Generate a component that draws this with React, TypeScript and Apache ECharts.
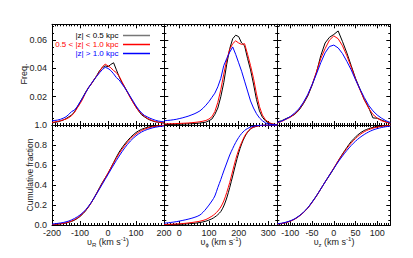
import React, { useEffect, useRef } from "react";
import * as echarts from "echarts";

// ---------- data ----------
const VR_X = [-200,-190,-180,-170,-160,-150,-140,-130,-120,-110,-100,-90,-80,-70,-60,-50,-40,-30,-20,-10,0,10,20,30,40,50,60,70,80,90,100,110,120,130,140,150,160,170,180,190,200];
const VR_LOW = [0.0015,0.0018,0.0022,0.0028,0.0035,0.0045,0.0058,0.0070,0.0092,0.0125,0.0160,0.0195,0.0232,0.0262,0.0290,0.0318,0.0350,0.0385,0.0405,0.0418,0.0412,0.0428,0.0440,0.0390,0.0340,0.0300,0.0268,0.0232,0.0195,0.0160,0.0128,0.0098,0.0072,0.0058,0.0045,0.0035,0.0028,0.0022,0.0020,0.0016,0.0014];
const VR_MID = [0.0018,0.0022,0.0025,0.0030,0.0036,0.0042,0.0052,0.0066,0.0088,0.0120,0.0150,0.0185,0.0228,0.0265,0.0288,0.0322,0.0348,0.0378,0.0412,0.0430,0.0418,0.0405,0.0385,0.0370,0.0345,0.0305,0.0265,0.0228,0.0192,0.0158,0.0125,0.0098,0.0078,0.0062,0.0048,0.0038,0.0030,0.0024,0.0020,0.0017,0.0015];
const VR_HIGH = [0.0030,0.0032,0.0035,0.0040,0.0048,0.0058,0.0075,0.0095,0.0105,0.0130,0.0162,0.0195,0.0228,0.0262,0.0292,0.0320,0.0345,0.0370,0.0392,0.0408,0.0400,0.0385,0.0362,0.0335,0.0318,0.0290,0.0262,0.0232,0.0200,0.0168,0.0135,0.0108,0.0085,0.0068,0.0058,0.0048,0.0040,0.0033,0.0028,0.0025,0.0022];

const VPHI_X = [-50,-40,-30,-20,-10,0,10,20,30,40,50,60,70,80,90,100,110,120,130,140,150,160,170,180,190,200,210,220,230,240,250,260,270,280,290,300,310,320,330];
const VPHI_LOW = [0.0003,0.0003,0.0004,0.0004,0.0005,0.0005,0.0006,0.0007,0.0008,0.0009,0.0010,0.0012,0.0014,0.0017,0.0020,0.0030,0.0042,0.0075,0.0120,0.0200,0.0300,0.0430,0.0540,0.0610,0.0635,0.0625,0.0580,0.0560,0.0470,0.0390,0.0290,0.0180,0.0100,0.0055,0.0030,0.0015,0.0008,0.0004,0.0002];
const VPHI_MID = [0.0008,0.0008,0.0009,0.0009,0.0010,0.0011,0.0012,0.0013,0.0014,0.0016,0.0018,0.0020,0.0023,0.0027,0.0032,0.0042,0.0058,0.0095,0.0160,0.0250,0.0360,0.0460,0.0535,0.0575,0.0595,0.0580,0.0570,0.0575,0.0500,0.0420,0.0330,0.0220,0.0130,0.0070,0.0038,0.0020,0.0010,0.0005,0.0003];
const VPHI_HIGH = [0.0030,0.0032,0.0034,0.0037,0.0040,0.0045,0.0050,0.0056,0.0062,0.0070,0.0078,0.0088,0.0100,0.0118,0.0140,0.0165,0.0195,0.0225,0.0270,0.0330,0.0420,0.0470,0.0515,0.0552,0.0500,0.0440,0.0380,0.0310,0.0240,0.0170,0.0120,0.0080,0.0050,0.0030,0.0015,0.0008,0.0004,0.0002,0.0001];

const VZ_X = [-130,-120,-110,-100,-90,-80,-70,-60,-50,-40,-30,-20,-10,0,10,20,30,40,50,60,70,80,90,100,110,120,130];
const VZ_LOW = [0.0022,0.0030,0.0045,0.0058,0.0075,0.0105,0.0150,0.0205,0.0280,0.0370,0.0490,0.0580,0.0620,0.0640,0.0665,0.0590,0.0510,0.0420,0.0330,0.0255,0.0180,0.0125,0.0050,0.0048,0.0035,0.0022,0.0012];
const VZ_MID = [0.0015,0.0025,0.0040,0.0055,0.0078,0.0110,0.0155,0.0210,0.0285,0.0375,0.0470,0.0540,0.0600,0.0630,0.0610,0.0560,0.0490,0.0410,0.0325,0.0250,0.0180,0.0120,0.0075,0.0048,0.0030,0.0020,0.0012];
const VZ_HIGH = [0.0018,0.0028,0.0042,0.0060,0.0085,0.0115,0.0160,0.0215,0.0285,0.0360,0.0440,0.0510,0.0555,0.0565,0.0545,0.0505,0.0450,0.0390,0.0320,0.0255,0.0195,0.0140,0.0100,0.0070,0.0048,0.0030,0.0018];

// cumulative fractions
const VR_CX = [-200,-180,-160,-140,-120,-100,-80,-60,-40,-20,0,20,40,60,80,100,120,140,160,180,200];
const VR_CUM_LOW = [0.004,0.008,0.015,0.027,0.048,0.085,0.142,0.222,0.322,0.425,0.515,0.625,0.730,0.810,0.875,0.925,0.957,0.976,0.988,0.994,0.997];
const VR_CUM_MID = [0.005,0.009,0.016,0.030,0.053,0.090,0.145,0.222,0.318,0.420,0.520,0.620,0.715,0.795,0.862,0.910,0.945,0.968,0.982,0.991,0.996];
const VR_CUM_HIGH = [0.010,0.016,0.025,0.040,0.065,0.100,0.152,0.225,0.315,0.410,0.505,0.600,0.690,0.772,0.840,0.892,0.930,0.955,0.972,0.983,0.990];

const VPHI_CX = [-50,-30,-10,10,30,50,70,90,110,120,130,140,150,160,170,180,190,200,210,220,230,240,250,270,290,310,330];
const VPHI_CUM_LOW = [0.003,0.004,0.006,0.008,0.012,0.017,0.025,0.038,0.062,0.080,0.103,0.135,0.190,0.270,0.375,0.490,0.610,0.720,0.810,0.878,0.928,0.960,0.978,0.994,0.999,1.0,1.0];
const VPHI_CUM_MID = [0.005,0.007,0.010,0.014,0.020,0.028,0.038,0.055,0.088,0.110,0.140,0.180,0.240,0.325,0.425,0.540,0.655,0.750,0.825,0.888,0.932,0.962,0.978,0.994,0.999,1.0,1.0];
const VPHI_CUM_HIGH = [0.018,0.025,0.033,0.045,0.058,0.075,0.100,0.160,0.240,0.290,0.375,0.455,0.540,0.620,0.700,0.765,0.825,0.875,0.915,0.945,0.965,0.978,0.988,0.996,0.999,1.0,1.0];

const VZ_CX = VZ_X;
const VZ_CUM_LOW = [0.010,0.015,0.025,0.040,0.060,0.090,0.125,0.170,0.230,0.290,0.360,0.430,0.495,0.565,0.640,0.710,0.775,0.835,0.880,0.918,0.945,0.963,0.976,0.985,0.991,0.995,0.997];
const VZ_CUM_MID = [0.010,0.015,0.024,0.038,0.058,0.087,0.123,0.168,0.225,0.290,0.360,0.430,0.500,0.570,0.640,0.705,0.765,0.820,0.865,0.903,0.932,0.953,0.968,0.979,0.987,0.992,0.995];
const VZ_CUM_HIGH = [0.012,0.018,0.028,0.042,0.062,0.090,0.127,0.172,0.228,0.292,0.360,0.430,0.500,0.565,0.630,0.690,0.745,0.795,0.838,0.875,0.905,0.930,0.950,0.964,0.975,0.983,0.988];

const X_TICKS_R = [-200, -100, 0, 100, 200];
const X_TICKS_PHI = [0, 100, 200, 300];
const X_TICKS_Z = [-100, -50, 0, 50, 100];
const Y_TICKS_FREQ = [0.02, 0.04, 0.06];
const Y_TICKS_CUM = [0, 0.2, 0.4, 0.6, 0.8, 1.0];

const LEGEND = ["|z| < 0.5 kpc", "0.5 < |z| < 1.0 kpc", "|z| > 1.0 kpc"];
const COLORS = ["#000000", "#ff0000", "#0000ff"];

const FONT = "Liberation Sans, Arial, Helvetica, sans-serif";
const TXT = "#222";

export default function App() {
  const ref = useRef<HTMLDivElement>(null);

  useEffect(() => {
    if (!ref.current) return;
    const chart = echarts.init(ref.current, undefined, { renderer: "svg" });

    const cols = [
      { left: 52, width: 112, min: -200, max: 200, minor: 10, majors: X_TICKS_R },
      { left: 164.3, width: 113, min: -50, max: 330, minor: 10, majors: X_TICKS_PHI },
      { left: 277.3, width: 113, min: -130, max: 130, minor: 5, majors: X_TICKS_Z },
    ];
    const rows = [
      { top: 24.3, height: 100.7, min: 0, max: 0.0712, minor: 0.005, majors: [0, 0.02, 0.04, 0.06], labels: Y_TICKS_FREQ, dec: 2 },
      { top: 125, height: 100, min: 0, max: 1.0, minor: 0.05, majors: Y_TICKS_CUM, labels: Y_TICKS_CUM, dec: 1 },
    ];
    const panels = [
      { hx: VR_X, h: [VR_LOW, VR_MID, VR_HIGH], cx: VR_CX, c: [VR_CUM_LOW, VR_CUM_MID, VR_CUM_HIGH] },
      { hx: VPHI_X, h: [VPHI_LOW, VPHI_MID, VPHI_HIGH], cx: VPHI_CX, c: [VPHI_CUM_LOW, VPHI_CUM_MID, VPHI_CUM_HIGH] },
      { hx: VZ_X, h: [VZ_LOW, VZ_MID, VZ_HIGH], cx: VZ_CX, c: [VZ_CUM_LOW, VZ_CUM_MID, VZ_CUM_HIGH] },
    ];

    const grid: any[] = [];
    const xAxis: any[] = [];
    const yAxis: any[] = [];
    const series: any[] = [];

    const lineStyle = { color: "#000", width: 1 };

    rows.forEach((r, ri) => {
      cols.forEach((c, ci) => {
        const g = grid.length;
        grid.push({ left: c.left, top: r.top, width: c.width, height: r.height, containLabel: false, outerBoundsMode: "none" });
        (["bottom", "top"] as const).forEach((pos) => {
          xAxis.push({
            type: "value", gridIndex: g, position: pos, min: c.min, max: c.max, interval: c.minor,
            axisLine: { show: true, onZero: false, lineStyle },
            axisTick: { show: true, inside: true, length: 4, customValues: c.majors, lineStyle },
            axisLabel: {
              show: pos === "bottom" && ri === 1, customValues: c.majors, margin: 3,
              fontSize: 9, fontFamily: FONT, color: TXT, formatter: (v: number) => String(v),
            },
            splitLine: { show: false },
          });
          xAxis.push({
            type: "value", gridIndex: g, position: pos, min: c.min, max: c.max, interval: c.minor,
            axisLine: { show: false, onZero: false },
            axisTick: { show: true, inside: true, length: 2, lineStyle },
            axisLabel: { show: false }, splitLine: { show: false },
          });
        });
        (["left", "right"] as const).forEach((pos) => {
          yAxis.push({
            type: "value", gridIndex: g, position: pos, min: r.min, max: r.max, interval: r.minor,
            axisLine: { show: true, onZero: false, lineStyle },
            axisTick: { show: true, inside: true, length: 4, customValues: r.majors, lineStyle },
            axisLabel: {
              show: pos === "left" && ci === 0, customValues: r.labels, margin: 5,
              fontSize: 9, fontFamily: FONT, color: TXT, formatter: (v: number) => v.toFixed(r.dec),
            },
            splitLine: { show: false },
          });
          yAxis.push({
            type: "value", gridIndex: g, position: pos, min: r.min, max: r.max, interval: r.minor,
            axisLine: { show: false, onZero: false },
            axisTick: { show: true, inside: true, length: 2, lineStyle },
            axisLabel: { show: false }, splitLine: { show: false },
          });
        });
        const p = panels[ci];
        const xs = ri === 0 ? p.hx : p.cx;
        const sets = ri === 0 ? p.h : p.c;
        sets.forEach((ys, si) => {
          series.push({
            type: "line", xAxisIndex: g * 4, yAxisIndex: g * 4,
            data: xs.map((x, i) => [x, ys[i]]),
            showSymbol: false, symbol: "none", silent: true,
            smooth: ri === 1 ? 0.3 : false,
            lineStyle: { color: COLORS[si], width: 1 },
            z: 3 + si,
          });
        });
      });
    });

    const graphic: any[] = [];
    // legend
    LEGEND.forEach((t, i) => {
      const y = 35.5 + i * 9;
      graphic.push({
        type: "text", x: 118.5, y,
        style: { text: t, fill: COLORS[i], fontSize: 8, fontFamily: FONT, align: "right", verticalAlign: "middle", textAlign: "right", textVerticalAlign: "middle" },
      });
      graphic.push({
        type: "line", shape: { x1: 123, y1: y, x2: 150, y2: y },
        style: { stroke: i === 0 ? "#777" : COLORS[i], lineWidth: 1.5 },
      });
    });
    // y axis names
    graphic.push({
      type: "text", x: 24, y: 74, rotation: Math.PI / 2,
      style: { text: "Freq.", fill: TXT, fontSize: 9, fontFamily: FONT, align: "center", verticalAlign: "middle", textAlign: "center", textVerticalAlign: "middle" },
    });
    graphic.push({
      type: "text", x: 29.5, y: 175, rotation: Math.PI / 2,
      style: { text: "Cumulative fraction", fill: TXT, fontSize: 8.5, fontFamily: FONT, align: "center", verticalAlign: "middle", textAlign: "center", textVerticalAlign: "middle" },
    });
    // x axis names
    const rich = {
      m: { fontSize: 9, fontFamily: FONT, fill: TXT, color: TXT, lineHeight: 12, verticalAlign: "middle" },
      s: { fontSize: 6, fontFamily: FONT, fill: TXT, color: TXT, lineHeight: 12, verticalAlign: "bottom" },
      p: { fontSize: 6, fontFamily: FONT, fill: TXT, color: TXT, lineHeight: 12, verticalAlign: "top" },
    };
    const xNames = [
      { x: 108, sub: "R" },
      { x: 221, sub: "ϕ" },
      { x: 334, sub: "z" },
    ];
    xNames.forEach((n) => {
      graphic.push({
        type: "text", x: n.x, y: 242,
        style: {
          text: `{m|υ}{s|${n.sub}}{m| (km s}{p|-1}{m|)}`,
          rich, fill: TXT, fontSize: 9, fontFamily: FONT,
          align: "center", verticalAlign: "middle", textAlign: "center", textVerticalAlign: "middle",
        },
      });
    });

    chart.setOption({
      animation: false,
      backgroundColor: "#ffffff",
      grid, xAxis, yAxis, series, graphic,
    });

    return () => chart.dispose();
  }, []);

  return <div ref={ref} style={{ position: "absolute", left: 0, top: 0, width: 413, height: 258 }} />;
}
